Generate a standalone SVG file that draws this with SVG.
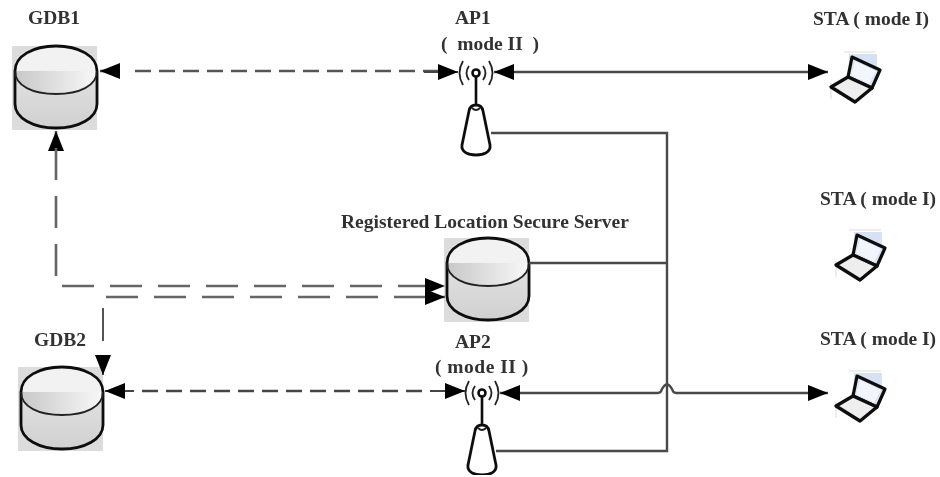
<svg xmlns="http://www.w3.org/2000/svg" width="940" height="477" viewBox="0 0 940 477">
<style>
text{font-family:"Liberation Serif","Times New Roman",serif;font-weight:bold;font-size:19.5px;fill:#333;white-space:pre}
.conn{fill:none;stroke:#444;stroke-width:2}
.solid{stroke:#4a4a4a;stroke-width:2.4}
.short{stroke:#555;stroke-width:2.6;stroke-dasharray:16 8}
.long{stroke:#666;stroke-width:2.6;stroke-dasharray:32 16}
.out{stroke:#111;stroke-width:2.8;fill:none}
.thin{stroke:#222;stroke-width:1.8;fill:none}
</style>
<defs>
<filter id="soft" x="0" y="0" width="100%" height="100%"><feGaussianBlur stdDeviation="0.5"/></filter>
<linearGradient id="g" x1="0" x2="1" y1="0" y2="0"><stop offset="0" stop-color="#c8c8c8"/><stop offset="1" stop-color="#f8f8f8"/></linearGradient>
<linearGradient id="b" x1="0" x2="0" y1="0" y2="1"><stop offset="0" stop-color="#e2e2e2"/><stop offset="1" stop-color="#d0d0d0"/></linearGradient>
<marker id="a" markerUnits="userSpaceOnUse" markerWidth="22" markerHeight="18" refX="20" refY="8" orient="auto-start-reverse"><path d="M0 0L20 8L0 16Z" fill="#000"/></marker>
<g id="cyl">
<rect x="-3" y="0" width="85" height="84" fill="#dcdcdc"/>
<path d="M0 25V58C0 72 18 82 41 82S82 72 82 58V25Z" fill="url(#b)"/>
<path d="M0 25C0 40 18 48 41 48S82 40 82 25Z" fill="url(#g)"/>
<path d="M0 25C0 10 18 0 41 0S82 10 82 25Z" fill="#f2f2f2"/>
<path d="M0 25V58C0 72 18 82 41 82S82 72 82 58V25C82 10 64 0 41 0S0 10 0 25Z" class="out"/>
<path d="M0 25C0 40 18 48 41 48S82 40 82 25" class="thin"/>
</g>
<g id="ap">
<circle cx="0" cy="0" r="3.5" fill="none" stroke="#111" stroke-width="2.6"/>
<path d="M-7-7Q-12 0-7 7M7-7Q12 0 7 7M-13-12Q-20 0-13 12M13-12Q20 0 13 12" class="thin"/>
<path d="M0 3V32" stroke="#111" stroke-width="2.6"/>
<path d="M-7 38C-6 33-3 32 0 32S6 33 7 38L14 72C15 79 8 82 0 82S-15 79-14 72Z" fill="#fff" stroke="#111" stroke-width="2.8"/>
<path d="M-4 35Q0 39 4 35" class="thin"/>
</g>
<g id="lap">
<path d="M13 -1H45" stroke="#ddd" fill="none"/>
<path d="M0 30V46" stroke="#ddd" fill="none"/>
<rect x="18" y="1" width="28" height="20" fill="#d6e2f4"/>
<path d="M21 4L49 17L41 35L17 24Z" fill="#d9e4f4" stroke="#111" stroke-width="3.2" stroke-linejoin="round"/>
<path d="M17 24L0 34L24 49L41 35Z" fill="#eee" stroke="#111" stroke-width="3.4" stroke-linejoin="round"/>
<path d="M24 8L45 18L38 31L20 22Z" fill="#f2f5fb"/>
</g>
</defs>
<g filter="url(#soft)">
<g id="gdb1"><use href="#cyl" x="15" y="46"/><text x="28" y="24">GDB1</text></g>
<g id="gdb2"><use href="#cyl" x="21" y="367"/><text x="34" y="346">GDB2</text></g>
<g id="server"><use href="#cyl" x="447" y="238"/><text x="341" y="228">Registered Location Secure Server</text></g>
<g id="ap1"><use href="#ap" x="476" y="73"/><text x="455" y="24">AP1</text><text x="441" y="50">(  mode II  )</text></g>
<g id="ap2"><use href="#ap" x="482" y="393"/><text x="455" y="348">AP2</text><text x="435" y="373" style="letter-spacing:.5px">( mode II )</text></g>
<g id="sta1"><use href="#lap" x="831" y="53"/><text x="813" y="25">STA ( mode I)</text></g>
<g id="sta2"><use href="#lap" x="836" y="231"/><text x="820" y="205">STA ( mode I)</text></g>
<g id="sta3"><use href="#lap" x="836" y="372"/><text x="820" y="345">STA ( mode I)</text></g>
<g id="connectors">
<path class="conn short" d="M135 71H440"/>
<path class="conn solid" d="M494 72H828" marker-start="url(#a)" marker-end="url(#a)"/>
<path class="conn" style="stroke:#555;stroke-width:2.6" d="M100 71H118" marker-start="url(#a)"/>
<path class="conn" d="M424 72H458" marker-end="url(#a)"/>
<path class="conn solid" d="M491 133H667V451H496M529 263H667"/>
<path class="conn solid" d="M500 393H658Q661 393 662 389Q667 380 672 389Q673 393 676 393H828" marker-start="url(#a)" marker-end="url(#a)"/>
<path class="conn short" style="stroke:#444" d="M142 391H424"/>
<path class="conn" d="M105 391H134" marker-start="url(#a)"/>
<path class="conn" d="M430 391H465" marker-end="url(#a)"/>
<path class="conn" style="stroke:#666;stroke-width:2.6" d="M56 150V131" marker-end="url(#a)"/>
<path class="conn long" d="M56 148V276"/>
<path class="conn long" d="M62 286H445" marker-end="url(#a)"/>
<path class="conn long" d="M106 297H445" marker-end="url(#a)"/>
<path class="conn" style="stroke:#555" d="M103 308V341"/>
<path class="conn" style="stroke:#555" d="M103 355V375" marker-end="url(#a)"/>
</g>
</g>
</svg>
